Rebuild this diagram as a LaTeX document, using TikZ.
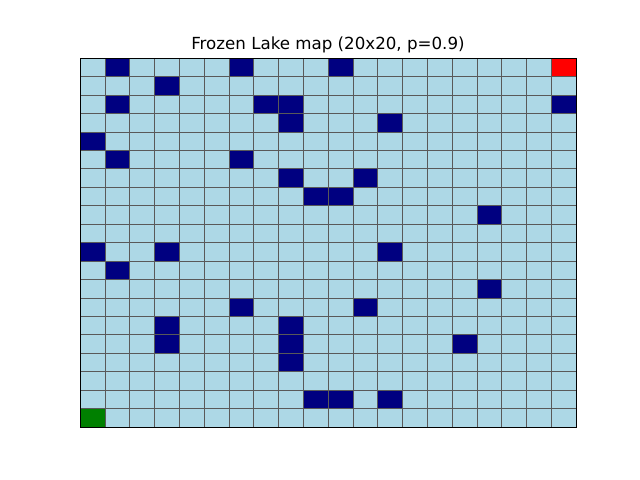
\documentclass[tikz,border=0pt]{standalone}
\usepackage{fontspec}
\setmainfont{DejaVu Sans}
\definecolor{lake}{RGB}{173,216,230}
\definecolor{hole}{RGB}{0,0,128}
\definecolor{goalred}{RGB}{255,0,0}
\definecolor{startgreen}{RGB}{0,128,0}
\begin{document}
\begin{tikzpicture}[x=0.72pt,y=0.72pt,
  cellline/.style={draw=black!65,line width=0.4pt},
  frame/.style={draw=black,line width=0.6pt},
  titletext/.style={font=\fontsize{12}{14}\selectfont,anchor=base,inner sep=0pt}]
\useasboundingbox (0,0) rectangle (640,480);
\def\cw{24.8}
\def\ch{18.45}
% background ice
\fill[lake] (80,53) rectangle (576,422);
% holes
\foreach \c/\r in {1/0,6/0,10/0,3/1,1/2,7/2,8/2,19/2,8/3,12/3,0/4,1/5,6/5,8/6,11/6,9/7,10/7,16/8,0/10,3/10,12/10,1/11,16/12,6/13,11/13,3/14,8/14,3/15,8/15,15/15,8/16,9/18,10/18,12/18}
  \fill[hole] ({80+\cw*\c},{422-\ch*\r}) rectangle ({80+\cw*(\c+1)},{422-\ch*(\r+1)});
% goal and start
\fill[goalred] ({80+\cw*19},422) rectangle (576,{422-\ch});
\fill[startgreen] (80,{422-\ch*19}) rectangle ({80+\cw},53);
% grid lines
\foreach \i in {1,...,19} {
  \draw[cellline] ({80+\cw*\i},53) -- ({80+\cw*\i},422);
  \draw[cellline] (80,{422-\ch*\i}) -- (576,{422-\ch*\i});
}
\draw[frame] (80,53) rectangle (576,422);
\node[titletext] (title) at (328,430) {Frozen Lake map (20x20, p=0.9)};
\end{tikzpicture}
\end{document}
